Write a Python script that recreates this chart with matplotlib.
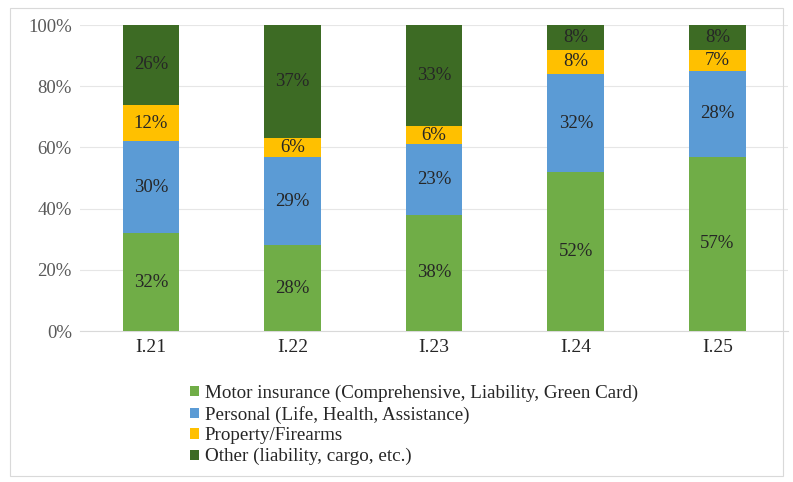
import numpy as np
import matplotlib.pyplot as plt
from matplotlib.patches import Rectangle

plt.rcParams['font.family'] = ['Liberation Serif', 'DejaVu Serif']

cats = ['I.21', 'I.22', 'I.23', 'I.24', 'I.25']
motor = [32, 28, 38, 52, 57]
personal = [30, 29, 23, 32, 28]
prop = [12, 6, 6, 8, 7]
other = [26, 37, 33, 8, 8]

names = ['Motor insurance (Comprehensive, Liability, Green Card)',
         'Personal (Life, Health, Assistance)',
         'Property/Firearms',
         'Other (liability, cargo, etc.)']
colors = ['#70AD47', '#5B9BD5', '#FFC000', '#3D6B24']
series = [motor, personal, prop, other]

fig = plt.figure(figsize=(7.93, 4.82), dpi=100)
# outer frame
fig.patches.append(Rectangle((0.012, 0.012), 0.976, 0.972, transform=fig.transFigure,
                             fill=False, edgecolor='#D9D9D9', linewidth=0.8))
ax = fig.add_axes([0.101, 0.313, 0.893, 0.635])

x = np.arange(len(cats))
bottom = np.zeros(len(cats))
for vals, col, nm in zip(series, colors, names):
    ax.bar(x, vals, 0.4, bottom=bottom, color=col, label=nm, zorder=3)
    for xi, b, v in zip(x, bottom, vals):
        ax.text(xi, b + v / 2, f'{v}%', ha='center', va='center', fontsize=13.5,
                color='#262626', zorder=4)
    bottom += vals

ax.set_xlim(-0.5, len(cats) - 0.5)
ax.set_ylim(0, 100)
ax.set_yticks(range(0, 101, 20))
ax.set_yticklabels([f'{t}%' for t in range(0, 101, 20)], color='#595959', fontsize=13.5)
ax.set_xticks(x)
ax.set_xticklabels(cats, fontsize=14, color='#262626')
ax.grid(axis='y', color='#E6E6E6', linewidth=0.8, zorder=0)
ax.tick_params(axis='y', length=0, pad=6)
ax.tick_params(axis='x', length=0, pad=6)
for s in ['top', 'right', 'left']:
    ax.spines[s].set_visible(False)
ax.spines['bottom'].set_color('#D9D9D9')

fig.legend(loc='upper left', bbox_to_anchor=(0.228, 0.222), ncol=1, frameon=False,
           fontsize=13.7, handlelength=0.45, handleheight=0.45, handletextpad=0.3,
           labelspacing=0.2, borderpad=0, labelcolor='#262626')

fig.savefig('out.png', dpi=100)
